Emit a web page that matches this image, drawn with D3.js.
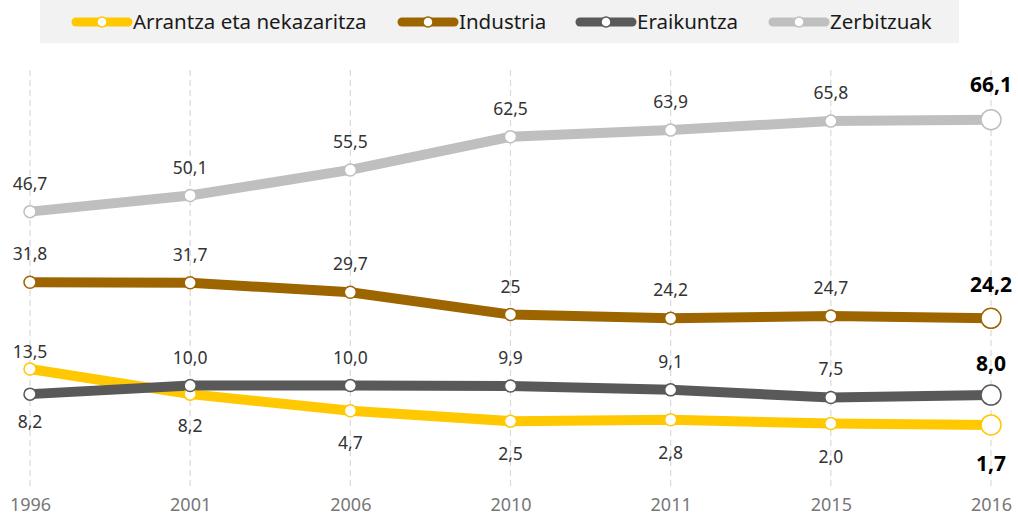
<!DOCTYPE html>
<html>
<head>
<meta charset="utf-8">
<script src="https://cdn.jsdelivr.net/npm/d3@7"></script>
<style>
  body { margin: 0; background: #fff; }
  svg { font-family: "Noto Sans", "Liberation Sans", sans-serif; }
</style>
</head>
<body>
<svg id="chart" width="1018" height="522"></svg>
<script>
const years = ['1996', '2001', '2006', '2010', '2011', '2015', '2016'];
const seriesNames = ['Arrantza eta nekazaritza', 'Industria', 'Eraikuntza', 'Zerbitzuak'];
const arrantza = [13.5, 8.2, 4.7, 2.5, 2.8, 2.0, 1.7];
const industria = [31.8, 31.7, 29.7, 25, 24.2, 24.7, 24.2];
const eraikuntza = [8.2, 10.0, 10.0, 9.9, 9.1, 7.5, 8.0];
const zerbitzuak = [46.7, 50.1, 55.5, 62.5, 63.9, 65.8, 66.1];
// text shown on the points (some keep one decimal, some not)
const arrantzaLabels = ['13,5', '8,2', '4,7', '2,5', '2,8', '2,0', '1,7'];
const industriaLabels = ['31,8', '31,7', '29,7', '25', '24,2', '24,7', '24,2'];
const eraikuntzaLabels = ['8,2', '10,0', '10,0', '9,9', '9,1', '7,5', '8,0'];
const zerbitzuakLabels = ['46,7', '50,1', '55,5', '62,5', '63,9', '65,8', '66,1'];

const colors = ['#ffc800', '#9c6500', '#595959', '#bfbfbf'];

// label offsets (baseline relative to point), last one is the bold end label
const series = [
  {name: seriesNames[0], values: arrantza, labels: arrantzaLabels, color: colors[0], dy: [-11, 38, 38, 39, 39, 39, 46]},
  {name: seriesNames[1], values: industria, labels: industriaLabels, color: colors[1], dy: [-22, -22, -22, -22, -22, -22, -26]},
  {name: seriesNames[2], values: eraikuntza, labels: eraikuntzaLabels, color: colors[2], dy: [34, -22, -22, -22, -22, -22, -24]},
  {name: seriesNames[3], values: zerbitzuak, labels: zerbitzuakLabels, color: colors[3], dy: [-22, -22, -22, -22, -22, -22, -28]}
];

const svg = d3.select('#chart');

const x = d3.scalePoint().domain(years).range([30, 991]);
const y = d3.scaleLinear().domain([0, 70]).range([433, 101.2]);

// legend box
svg.append('rect')
  .attr('x', 40).attr('y', 0)
  .attr('width', 919).attr('height', 43)
  .attr('fill', '#f2f2f2');

const legendX = [72, 398, 576, 769];
series.forEach(function(s, i){
  const g = svg.append('g').attr('transform', `translate(${legendX[i]},22)`);
  g.append('line')
    .attr('x1', 4).attr('x2', 56)
    .attr('stroke', s.color).attr('stroke-width', 9)
    .attr('stroke-linecap', 'round');
  g.append('circle')
    .attr('cx', 30).attr('r', 5)
    .attr('fill', '#fff').attr('stroke', s.color).attr('stroke-width', 1.5);
  g.append('text')
    .attr('x', 61).attr('y', 7)
    .attr('font-size', 20.5).attr('fill', '#1a1a1a')
    .text(s.name);
});

// vertical dashed gridlines
svg.append('g')
  .selectAll('line')
  .data(years)
  .join('line')
  .attr('x1', d => x(d)).attr('x2', d => x(d))
  .attr('y1', 70).attr('y2', 490)
  .attr('stroke', '#d9d9d9').attr('stroke-width', 1.2)
  .attr('stroke-dasharray', '6,4');

// x axis labels
const xAxis = svg.append('g')
  .attr('transform', 'translate(0,505)')
  .call(d3.axisBottom(x).tickSize(0).tickPadding(0));
xAxis.select('.domain').remove();
xAxis.selectAll('text')
  .attr('font-size', 18).attr('fill', '#777')
  .attr('font-family', '"Noto Sans", "Liberation Sans", sans-serif')
  .attr('dy', '0.35em');

const line = d3.line()
  .x((d, i) => x(years[i]))
  .y(d => y(d));

// draw lines back to front
const order = [3, 1, 0, 2];
order.forEach(function(k){
  const s = series[k];
  svg.append('path')
    .datum(s.values)
    .attr('d', line)
    .attr('fill', 'none')
    .attr('stroke', s.color)
    .attr('stroke-width', 10);
});

series.forEach(function(s){
  const last = s.values.length - 1;
  svg.append('g')
    .selectAll('circle')
    .data(s.values)
    .join('circle')
    .attr('cx', (d, i) => x(years[i]))
    .attr('cy', d => y(d))
    .attr('r', (d, i) => i == last ? 10 : 6)
    .attr('fill', '#fff')
    .attr('stroke', s.color)
    .attr('stroke-width', 1.5);

  svg.append('g')
    .selectAll('text')
    .data(s.values)
    .join('text')
    .attr('x', (d, i) => x(years[i]))
    .attr('y', (d, i) => y(d) + s.dy[i])
    .attr('text-anchor', 'middle')
    .attr('font-size', (d, i) => i == last ? 21 : 17.5)
    .attr('font-weight', (d, i) => i == last ? 'bold' : 'normal')
    .attr('fill', (d, i) => i == last ? '#000' : '#333')
    .text((d, i) => s.labels[i]);
});
</script>
</body>
</html>
